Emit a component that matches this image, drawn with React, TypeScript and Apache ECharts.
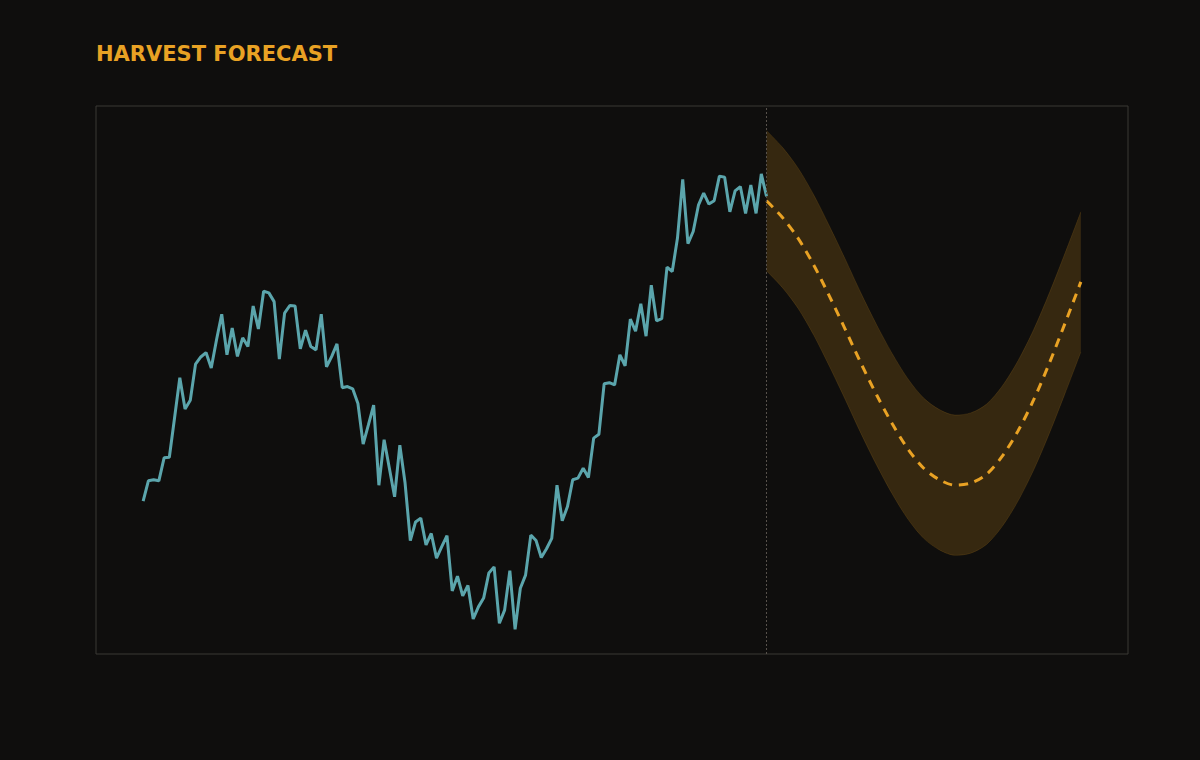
import React, { useEffect, useRef } from "react";
import * as echarts from "echarts";

// Historical harvest values (index 0..119)
const histValues: number[] = [
  27.9, 31.6, 31.8, 31.6, 35.8, 35.9, 43.1, 50.4, 44.7, 46.3,
  52.9, 54.2, 55.0, 52.2, 57.3, 62.0, 54.6, 59.5, 54.3, 57.7,
  56.1, 63.5, 59.3, 66.2, 65.9, 64.3, 53.8, 62.2, 63.6, 63.5,
  55.7, 59.1, 56.1, 55.5, 62.0, 52.4, 54.3, 56.6, 48.6, 48.8,
  48.4, 45.7, 38.3, 41.8, 45.4, 30.8, 39.1, 33.9, 28.7, 38.1,
  31.2, 20.7, 24.1, 24.8, 19.9, 22.0, 17.5, 19.6, 21.6, 11.5,
  14.2, 10.6, 12.5, 6.4, 8.6, 10.2, 14.8, 15.9, 5.6, 8.0,
  15.2, 4.5, 12.0, 14.4, 21.7, 20.7, 17.6, 19.2, 21.1, 30.8,
  24.3, 26.9, 31.8, 32.1, 33.9, 32.2, 39.4, 40.1, 49.3, 49.5,
  49.1, 54.6, 52.6, 61.1, 58.9, 63.9, 58.0, 67.3, 60.8, 61.2,
  70.6, 69.8, 75.9, 86.6, 74.9, 77.1, 81.9, 84.1, 82.1, 82.7,
  87.2, 87.0, 80.7, 84.5, 85.3, 80.4, 85.6, 80.4, 87.6, 83.5,
];

// Forecast (index positions, central estimate and interval)
const forecastIdx: number[] = [
  119, 122, 125, 128, 131, 134, 137, 140, 143, 146, 149,
  152, 155, 158, 161, 164, 167, 170, 173, 176, 179,
];
const forecastMid: number[] = [
  82.7, 79.7, 75.9, 71.0, 65.3, 59.3, 53.1, 47.3, 42.0, 37.4, 33.9,
  31.8, 30.8, 31.2, 32.8, 36.1, 40.7, 46.4, 53.1, 60.4, 67.9,
];
const forecastLow: number[] = [
  69.9, 66.9, 63.1, 58.2, 52.5, 46.5, 40.3, 34.5, 29.2, 24.6, 21.1,
  19.0, 18.0, 18.4, 20.0, 23.3, 27.9, 33.6, 40.3, 47.6, 55.1,
];
const forecastHigh: number[] = [
  95.5, 92.5, 88.7, 83.8, 78.1, 72.1, 65.9, 60.1, 54.8, 50.2, 46.7,
  44.6, 43.6, 44.0, 45.6, 48.9, 53.5, 59.2, 65.9, 73.2, 80.7,
];

const forecastStart = 119;

const ORANGE = "#e9a224";
const TEAL = "#5ba5ac";
const BG = "#0f0e0d";

export default function App() {
  const ref = useRef<HTMLDivElement>(null);

  useEffect(() => {
    if (!ref.current) return;
    const chart = echarts.init(ref.current, undefined, { renderer: "svg" });

    const hist = histValues.map((v, i) => [i, v]);
    // value first, index second, so that stacking applies to the value dimension
    const low = forecastIdx.map((x, i) => [forecastLow[i], x]);
    const bandDiff = forecastIdx.map((x, i) => [+(forecastHigh[i] - forecastLow[i]).toFixed(2), x]);
    const mid = forecastIdx.map((x, i) => [x, forecastMid[i]]);

    const edgeStyle = { color: "rgba(233,162,36,0.13)", width: 1 };
    const smooth = 0.3;

    chart.setOption({
      animation: false,
      backgroundColor: BG,
      title: {
        text: "HARVEST FORECAST",
        left: 91,
        top: 38,
        textStyle: {
          color: ORANGE,
          fontFamily: "DejaVu Sans",
          fontWeight: "bold",
          fontSize: 21,
        },
      },
      grid: {
        left: 96,
        right: 72,
        top: 106,
        bottom: 106,
        show: true,
        borderColor: "#3a3835",
        borderWidth: 1,
        backgroundColor: "transparent",
      },
      xAxis: {
        type: "value",
        min: -9,
        max: 188,
        show: false,
        splitLine: { show: false },
      },
      yAxis: {
        type: "value",
        min: 0,
        max: 100,
        show: false,
        splitLine: { show: false },
      },
      series: [
        {
          type: "line",
          name: "bandLow",
          dimensions: ["v", "k"],
          encode: { x: "k", y: "v" },
          data: low,
          stack: "band",
          smooth,
          symbol: "none",
          lineStyle: edgeStyle,
          silent: true,
          z: 1,
        },
        {
          type: "line",
          name: "band",
          dimensions: ["v", "k"],
          encode: { x: "k", y: "v" },
          data: bandDiff,
          stack: "band",
          smooth,
          symbol: "none",
          lineStyle: edgeStyle,
          areaStyle: { color: "rgba(233,162,36,0.18)", opacity: 1 },
          silent: true,
          z: 1,
        },
        {
          type: "line",
          name: "history",
          data: hist,
          symbol: "none",
          lineStyle: { color: TEAL, width: 3 },
          z: 3,
          markLine: {
            silent: true,
            symbol: ["none", "none"],
            label: { show: false },
            lineStyle: { color: "#57514b", width: 1, type: [2, 2] },
            data: [{ xAxis: forecastStart }],
          },
        },
        {
          type: "line",
          name: "forecast",
          data: mid,
          smooth,
          symbol: "none",
          lineStyle: { color: ORANGE, width: 3, type: [9, 7] },
          z: 4,
        },
      ],
    });

    return () => chart.dispose();
  }, []);

  return (
    <div
      style={{
        position: "fixed",
        left: 0,
        top: 0,
        width: 1200,
        height: 760,
        background: BG,
      }}
    >
      <div ref={ref} style={{ width: 1200, height: 760 }} />
    </div>
  );
}
